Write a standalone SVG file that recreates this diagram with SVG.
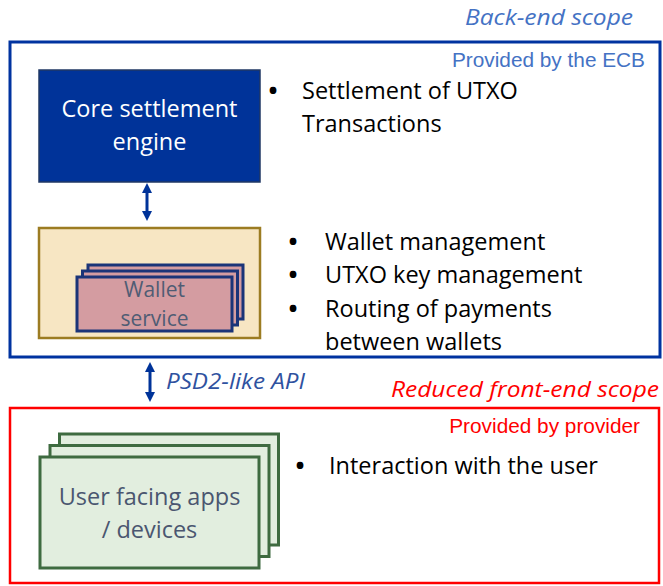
<svg xmlns="http://www.w3.org/2000/svg" width="663" height="586" viewBox="0 0 663 586">
  <style>
    .body { font-family: "Open Sans", "Liberation Sans", sans-serif; font-size: 23.5px; fill: #000; }
    .dot { font-family: "Open Sans", "Liberation Sans", sans-serif; font-size: 24px; font-weight: bold; fill: #000; text-anchor: middle; }
    .label { font-family: "Open Sans", "Liberation Sans", sans-serif; text-anchor: middle; }
    .scope { font-family: "Open Sans", "Liberation Sans", sans-serif; font-style: italic; font-size: 22px; }
    .prov { font-family: "Liberation Sans", Arial, sans-serif; font-size: 20.8px; text-anchor: end; }
    .ws { fill: #D49CA1; stroke: #1B3478; stroke-width: 3; }
    .uf { fill: #E2EEDF; stroke: #3E6B40; stroke-width: 3; }
    .conn { stroke: #003399; stroke-width: 3; fill: none; marker-start: url(#head); marker-end: url(#head); }
  </style>
  <defs>
    <marker id="head" viewBox="0 0 10 10" refX="2" refY="5" markerWidth="10" markerHeight="10" markerUnits="userSpaceOnUse" orient="auto-start-reverse">
      <path d="M0,0 L10,5 L0,10 z" fill="#003399"/>
    </marker>
  </defs>
  <rect width="663" height="586" fill="#fff"/>

  <!-- back-end scope -->
  <g id="backend-scope">
    <text class="scope" x="633" y="25" text-anchor="end" fill="#4472C4" textLength="168" lengthAdjust="spacingAndGlyphs">Back-end scope</text>
    <rect x="10" y="42" width="650" height="315" fill="none" stroke="#0033A0" stroke-width="3"/>
    <text class="prov" x="645" y="67" fill="#4472C4">Provided by the ECB</text>
  </g>

  <!-- core settlement engine -->
  <g id="core-engine">
    <rect x="39" y="70" width="221" height="112" fill="#003399" stroke="#203864" stroke-width="1.5"/>
    <text class="label" x="149.5" y="117" font-size="23.5" fill="#fff">Core settlement</text>
    <text class="label" x="149.5" y="150" font-size="23.5" fill="#fff">engine</text>
  </g>
  <g id="core-notes">
    <text class="dot" x="273" y="99">•</text>
    <text class="body" x="302" y="99">Settlement of UTXO</text>
    <text class="body" x="302" y="132">Transactions</text>
  </g>

  <!-- wallet service -->
  <g id="wallet-service">
    <rect x="39" y="228" width="221" height="110" fill="#F7E6C3" stroke="#9C7C22" stroke-width="2.5"/>
    <rect class="ws" x="88" y="265" width="155" height="54"/>
    <rect class="ws" x="82.5" y="271" width="155" height="54"/>
    <rect class="ws" x="77" y="277" width="155" height="54"/>
    <text class="label" x="154.5" y="297" font-size="21" fill="#505C74">Wallet</text>
    <text class="label" x="154.5" y="326" font-size="21" fill="#505C74">service</text>
  </g>
  <g id="wallet-notes">
    <text class="dot" x="293" y="250">•</text>
    <text class="body" x="325" y="250">Wallet management</text>
    <text class="dot" x="293" y="283">•</text>
    <text class="body" x="325" y="283">UTXO key management</text>
    <text class="dot" x="293" y="317">•</text>
    <text class="body" x="325" y="317">Routing of payments</text>
    <text class="body" x="325" y="350">between wallets</text>
  </g>

  <!-- front-end scope -->
  <g id="frontend-scope">
    <text class="scope" x="659" y="397" text-anchor="end" fill="#FF0000" textLength="268" lengthAdjust="spacingAndGlyphs">Reduced front-end scope</text>
    <rect x="10" y="408" width="649" height="175" fill="none" stroke="#FF0000" stroke-width="2.5"/>
    <text class="prov" x="640" y="433" fill="#FF0000">Provided by provider</text>
  </g>

  <!-- user facing apps -->
  <g id="user-apps">
    <rect class="uf" x="59.5" y="434" width="219" height="111"/>
    <rect class="uf" x="50" y="445.5" width="219" height="111"/>
    <rect class="uf" x="40" y="457" width="219" height="111"/>
    <text class="label" x="149.5" y="505" font-size="23.5" fill="#4A5670">User facing apps</text>
    <text class="label" x="149.5" y="538" font-size="23.5" fill="#4A5670">/ devices</text>
  </g>
  <g id="user-notes">
    <text class="dot" x="300" y="474">•</text>
    <text class="body" x="329" y="474">Interaction with the user</text>
  </g>

  <!-- connectors -->
  <g id="connectors">
    <line class="conn" x1="147" y1="191" x2="147" y2="213"/>
    <line class="conn" x1="150" y1="370" x2="150" y2="394"/>
    <text class="scope" x="166" y="389" fill="#2F52A0" textLength="139" lengthAdjust="spacingAndGlyphs">PSD2-like API</text>
  </g>
</svg>
